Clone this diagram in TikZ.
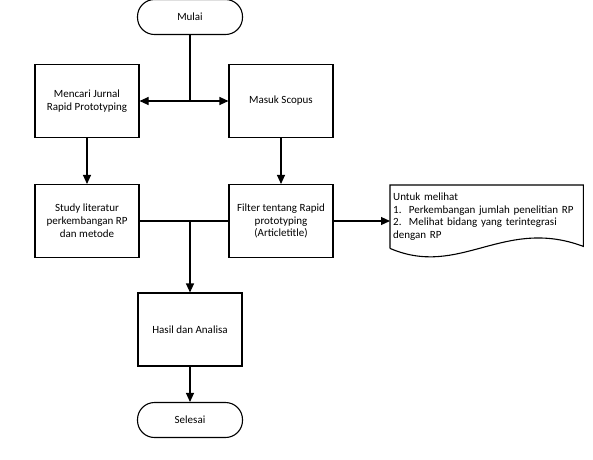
\documentclass[tikz,border=0pt]{standalone}
\usepackage{fontspec}
\setmainfont{Carlito}
\usetikzlibrary{arrows.meta,calc}

\tikzset{
  proses/.style = {draw, line width=1.1pt, minimum width=104pt, minimum height=73pt, align=center},
  terminal/.style = {draw, line width=1.1pt, rounded corners=17pt, minimum width=105pt, minimum height=35pt},
  panah/.style = {-{Triangle[length=9pt,width=8pt]}, line width=1.1pt},
  garis/.style = {line width=1.1pt}
}

\begin{document}
\begin{tikzpicture}[x=1pt, y=-1pt, font=\fontsize{11}{12.8}\selectfont]
    \useasboundingbox (0,0) rectangle (593,459);

    % alur utama
    \node [terminal] (mulai) at (190,17) {Mulai};
    \node [proses] (jurnal) at (87,101) {Mencari Jurnal\\Rapid Prototyping};
    \node [proses] (scopus) at (281,101) {Masuk Scopus};
    \node [proses] (study) at (87,221) {Study literatur\\perkembangan RP\\dan metode};
    \node [proses] (filter) at (281,221) {Filter tentang Rapid\\prototyping\\(Articletitle)};
    \node [proses] (hasil) at (190,329.5) {Hasil dan Analisa};
    \node [terminal] (selesai) at (190,420) {Selesai};

    % catatan (bentuk dokumen)
    \node [anchor=north west, text width=187pt, minimum height=63pt, inner sep=3pt, align=left] (catatan) at (390,185)
      {Untuk melihat\\1.~~Perkembangan jumlah penelitian RP\\2.~~Melihat bidang yang terintegrasi\\dengan RP};
    \draw [garis] (catatan.south west) -- (catatan.north west) -- (catatan.north east)
      -- ($(catatan.south east)+(0,-2)$)
      .. controls ($(catatan.south east)+(-80,-32)$) and ($(catatan.south west)+(70,30)$) .. (catatan.south west);

    % percabangan dan penggabungan
    \coordinate (cabang) at (mulai.south |- jurnal.east);
    \coordinate (gabung) at (hasil.north |- study.east);

    \draw [garis] (mulai.south) -- (cabang);
    \draw [panah] (cabang) -- (jurnal.east);
    \draw [panah] (cabang) -- (scopus.west);
    \draw [panah] (jurnal) -- (study);
    \draw [panah] (scopus) -- (filter);
    \draw [garis] (study.east) -- (filter.west);
    \draw [panah] (gabung) -- (hasil.north);
    \draw [panah] (filter.east) -- (catatan.west |- filter.east);
    \draw [panah] (hasil) -- (selesai);
\end{tikzpicture}
\end{document}
